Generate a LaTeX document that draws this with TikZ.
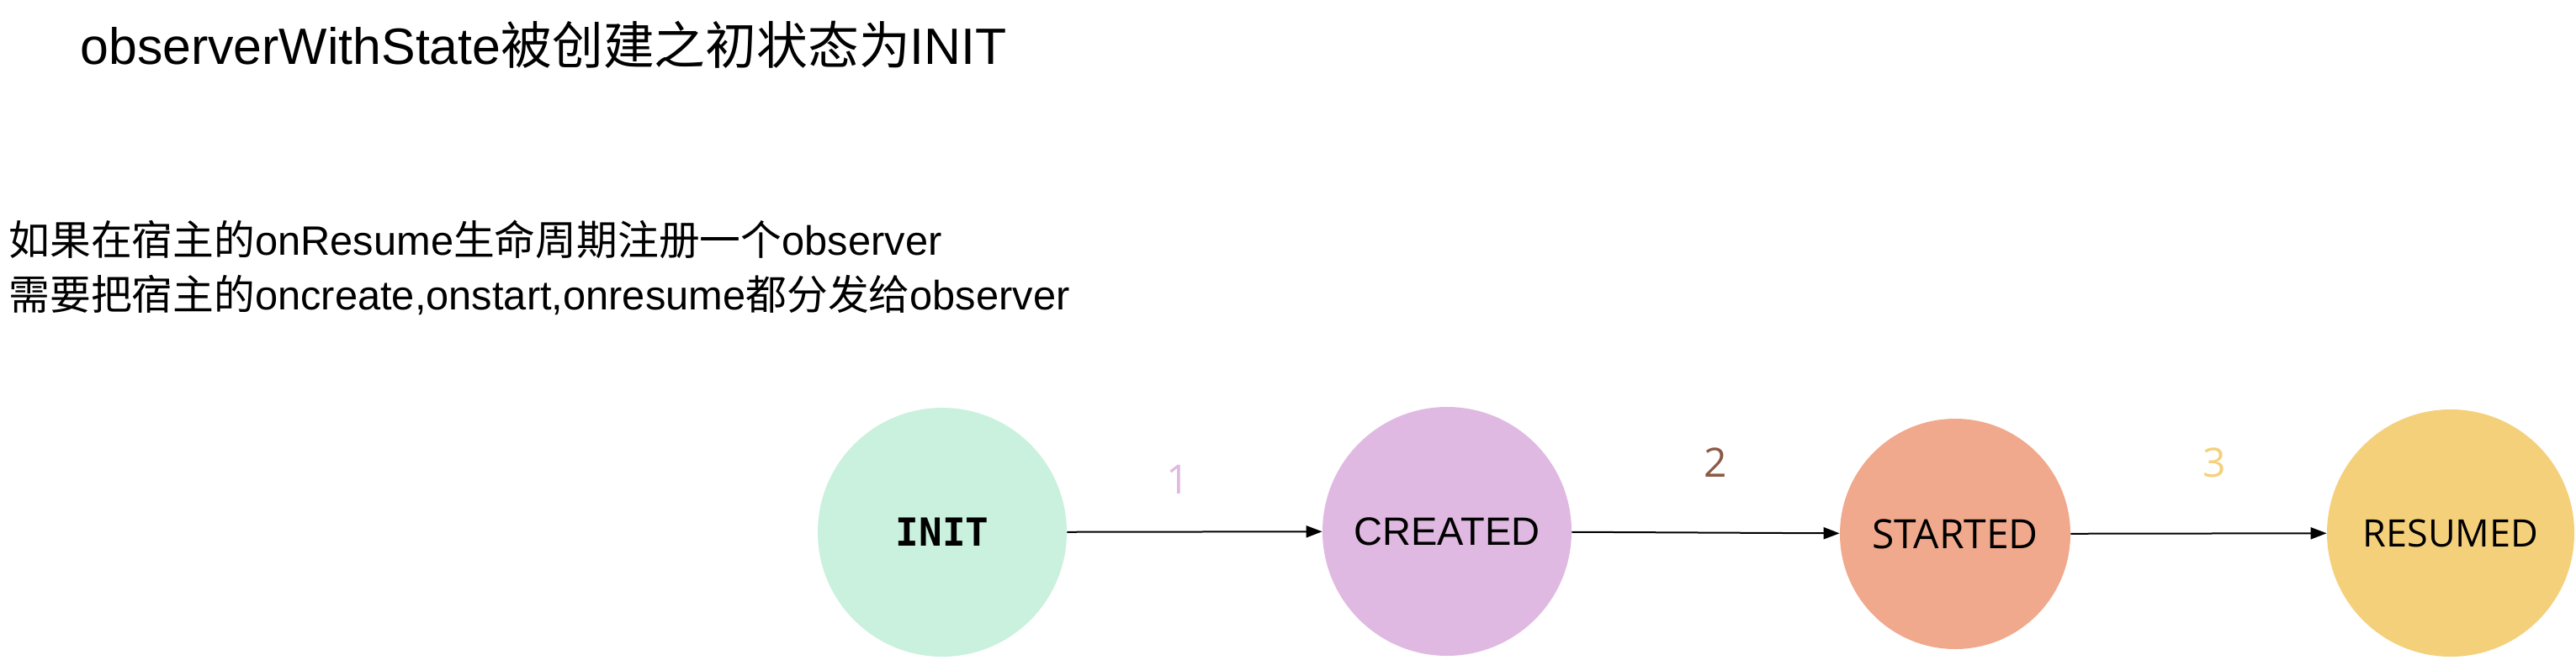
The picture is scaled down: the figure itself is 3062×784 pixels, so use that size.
\documentclass[tikz,border=0pt]{standalone}
\usepackage{fontspec}
\setmainfont{Liberation Sans}
\newfontfamily\cjk{Noto Sans CJK SC}
\newfontfamily\monob{DejaVu Sans Mono}
\newfontfamily\opens{Open Sans}
\usetikzlibrary{arrows.meta}
\definecolor{initc}{HTML}{CAF1DD}
\definecolor{createdc}{HTML}{E0B9E2}
\definecolor{startedc}{HTML}{F0A98C}
\definecolor{resumedc}{HTML}{F4D07B}
\definecolor{twoc}{HTML}{8C5A46}
\tikzset{
  state/.style={circle, inner sep=0pt, draw=none},
  flow/.style={draw=black, line width=1pt, -{Triangle[length=9.5pt,width=7pt]}},
  num/.style={font=\opens\fontsize{24}{28}\selectfont, inner sep=0pt},
  txt/.style={anchor=base west, inner sep=0pt},
}
\begin{document}
\begin{tikzpicture}[x=0.5pt,y=-0.5pt]
\useasboundingbox (0,0) rectangle (3062,784);
\node[txt, font=\fontsize{30.4}{36}\selectfont] (title) at (95,76) {observerWithState{\cjk 被创建之初状态为}INIT};
\node[txt, font=\fontsize{24.4}{30}\selectfont] (l1) at (10,303) {{\cjk 如果在宿主的}onResume{\cjk 生命周期注册一个}observer};
\node[txt, font=\fontsize{24.4}{30}\selectfont] (l2) at (10,368) {{\cjk 需要把宿主的}oncreate,onstart,onresume{\cjk 都分发给}observer};

\node[state, fill=initc, minimum size=148pt, font=\monob\bfseries\fontsize{23}{26}\selectfont] (init) at (1120,633) {INIT};
\node[state, fill=createdc, minimum size=148pt, font=\fontsize{23.5}{27}\selectfont] (created) at (1720,632) {CREATED};
\node[state, fill=startedc, minimum size=137pt, font=\opens\fontsize{24}{28}\selectfont] (started) at (2324,635) {STARTED};
\node[state, fill=resumedc, minimum size=147pt, font=\opens\fontsize{22.5}{27}\selectfont] (resumed) at (2913,634) {RESUMED};

\draw[flow] (init) -- (created);
\draw[flow] (created) -- (started);
\draw[flow] (started) -- (resumed);

\node[num, text=createdc] (n1) at (1400,570) {1};
\node[num, text=twoc] (n2) at (2039,550) {2};
\node[num, text=resumedc] (n3) at (2632,550) {3};
\end{tikzpicture}
\end{document}
